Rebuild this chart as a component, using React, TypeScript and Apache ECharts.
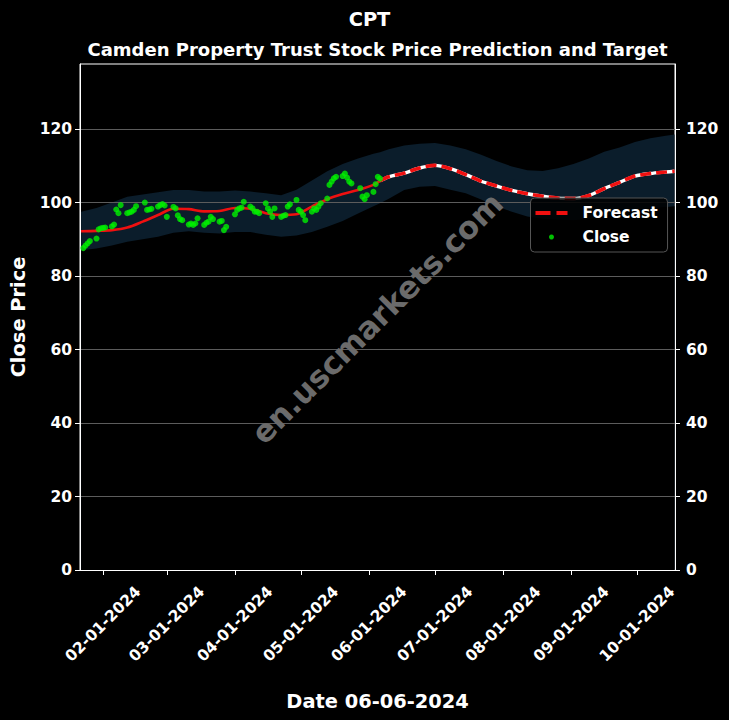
import React, { useEffect, useRef } from "react";
import * as echarts from "echarts";

const TITLE = "CPT";
const SUBTITLE = "Camden Property Trust Stock Price Prediction and Target";
const X_NAME = "Date 06-06-2024";
const Y_NAME = "Close Price";

const closeDates = [
  "2024-01-23", "2024-01-24", "2024-01-25", "2024-01-26", "2024-01-29", "2024-01-30", "2024-01-31",
  "2024-02-01", "2024-02-02", "2024-02-05", "2024-02-06", "2024-02-07", "2024-02-08", "2024-02-09",
  "2024-02-12", "2024-02-13", "2024-02-14", "2024-02-15", "2024-02-16", "2024-02-20", "2024-02-21",
  "2024-02-22", "2024-02-23", "2024-02-26", "2024-02-27", "2024-02-28", "2024-02-29",
  "2024-03-01", "2024-03-04", "2024-03-05", "2024-03-06", "2024-03-07", "2024-03-08", "2024-03-11",
  "2024-03-12", "2024-03-13", "2024-03-14", "2024-03-15", "2024-03-18", "2024-03-19", "2024-03-20",
  "2024-03-21", "2024-03-22", "2024-03-25", "2024-03-26", "2024-03-27", "2024-03-28",
  "2024-04-01", "2024-04-02", "2024-04-03", "2024-04-04", "2024-04-05", "2024-04-08", "2024-04-09",
  "2024-04-10", "2024-04-11", "2024-04-12", "2024-04-15", "2024-04-16", "2024-04-17", "2024-04-18",
  "2024-04-19", "2024-04-22", "2024-04-23", "2024-04-24", "2024-04-25", "2024-04-26", "2024-04-29",
  "2024-04-30",
  "2024-05-01", "2024-05-02", "2024-05-03", "2024-05-06", "2024-05-07", "2024-05-08", "2024-05-09",
  "2024-05-10", "2024-05-13", "2024-05-14", "2024-05-15", "2024-05-16", "2024-05-17", "2024-05-20",
  "2024-05-21", "2024-05-22", "2024-05-23", "2024-05-24", "2024-05-28", "2024-05-29", "2024-05-30",
  "2024-05-31",
  "2024-06-03", "2024-06-04", "2024-06-05", "2024-06-06",
];
const closeValues = [
  87.6, 88.3, 88.9, 89.5, 90.2, 92.7, 93.0,
  93.1, 93.2, 93.5, 94.0, 98.1, 97.1, 99.3,
  97.1, 97.3, 97.5, 98.0, 99.0, 100.0, 98.0,
  98.1, 98.3, 98.9, 99.3, 99.6, 99.2,
  96.1, 98.8, 98.4, 96.5, 95.5, 95.2, 94.0,
  94.3, 93.9, 94.3, 95.7, 93.9, 94.5, 94.8,
  96.1, 95.5, 94.8, 95.0, 92.5, 93.4,
  96.8, 98.0, 98.4, 98.6, 100.2, 98.9, 98.4,
  97.5, 97.5, 97.1, 99.8, 98.4, 97.5, 96.1,
  98.4, 96.1, 96.4, 96.6, 98.9, 99.5, 100.7,
  98.0,
  97.5, 96.6, 95.2, 97.5, 98.4, 98.0, 98.9,
  99.8, 101.1, 104.8, 105.7, 106.6, 107.0, 107.2,
  107.9, 106.8, 105.7, 105.2, 103.9, 101.6, 100.9,
  102.0,
  102.9, 105.0, 107.0, 106.5,
];

const forecastDates = [
  "2024-01-22", "2024-01-29", "2024-02-05", "2024-02-12", "2024-02-19", "2024-02-26",
  "2024-03-04", "2024-03-11", "2024-03-18", "2024-03-25", "2024-04-01", "2024-04-08",
  "2024-04-15", "2024-04-22", "2024-04-29", "2024-05-06", "2024-05-13", "2024-05-20",
  "2024-05-27", "2024-06-03", "2024-06-06", "2024-06-10", "2024-06-17", "2024-06-24",
  "2024-07-01", "2024-07-08", "2024-07-15", "2024-07-22", "2024-07-29", "2024-08-05",
  "2024-08-12", "2024-08-19", "2024-08-26", "2024-09-02", "2024-09-09", "2024-09-16",
  "2024-09-23", "2024-09-30", "2024-10-07", "2024-10-14", "2024-10-18",
];
const forecastValues = [
  92.2, 92.3, 92.5, 93.2, 94.8, 96.6,
  98.3, 98.2, 97.6, 97.7, 98.5, 98.3,
  97.1, 96.6, 96.8, 98.9, 100.9, 102.3,
  103.4, 104.8, 105.9, 107.0, 108.0, 109.4,
  110.1, 109.2, 107.6, 105.8, 104.5, 103.3,
  102.4, 101.7, 101.2, 101.1, 101.9, 103.8,
  105.5, 107.2, 107.9, 108.3, 108.5,
];
const bandLower = [
  87.0, 87.5, 88.3, 89.3, 90.0, 90.7,
  91.8, 92.2, 91.8, 91.6, 92.0, 92.0,
  91.2, 90.7, 91.0, 92.0, 93.4, 95.0,
  97.0, 99.0, 99.8, 101.0, 103.4, 104.3,
  104.5, 103.5, 102.5, 100.8, 98.9, 97.5,
  96.2, 95.6, 95.3, 95.2, 95.5, 96.3,
  97.3, 98.0, 98.5, 98.8, 99.0,
];
const bandUpper = [
  97.5, 98.5, 100.0, 101.6, 102.2, 102.8,
  103.4, 103.4, 103.0, 103.0, 103.3, 103.0,
  102.5, 102.0, 103.5, 106.0, 108.5, 110.5,
  112.0, 113.3, 113.7, 114.5, 115.5, 116.0,
  116.2, 115.5, 114.5, 113.0, 111.3, 109.8,
  108.8, 108.6, 109.3, 110.5, 112.0, 113.8,
  115.0, 116.5, 117.5, 118.2, 118.5,
];

const lastCloseDate = "2024-06-06";
const monthTicks = [
  "2024-02-01", "2024-03-01", "2024-04-01", "2024-05-01", "2024-06-01",
  "2024-07-01", "2024-08-01", "2024-09-01", "2024-10-01",
];
const yTicks = [0, 20, 40, 60, 80, 100, 120];
const yMax = 137.7;
const xStart = "2024-01-21T12:00:00";
const xEnd = "2024-10-18T05:00:00";

const FONT = "DejaVu Sans";
const BAND = "#0b1d2b";
const RED = "#f01010";
const GREEN = "#00f000";

function ts(s: string): number {
  const [y, m, d] = s.split("-").map(Number);
  return new Date(y, m - 1, d).getTime();
}
function fmt(v: number): string {
  const d = new Date(v);
  const p = (n: number) => String(n).padStart(2, "0");
  return `${p(d.getMonth() + 1)}-${p(d.getDate())}-${d.getFullYear()}`;
}

export default function App() {
  const ref = useRef<HTMLDivElement>(null);
  useEffect(() => {
    if (!ref.current) return;
    const chart = echarts.init(ref.current, null, { renderer: "svg" });
    const cut = ts(lastCloseDate);
    const fc = forecastDates.map((d, i) => [ts(d), forecastValues[i]]);
    const hist = fc.filter((p) => (p[0] as number) <= cut);
    const fut = fc.filter((p) => (p[0] as number) >= cut);
    const upper = forecastDates.map((d, i) => [ts(d), bandUpper[i]]);
    const lower = forecastDates.map((d, i) => [ts(d), bandLower[i]]);
    const close = closeDates.map((d, i) => [ts(d), closeValues[i]]);
    const tickVals = monthTicks.map(ts);

    const yAxisBase = {
      type: "value",
      min: 0,
      max: yMax,
      interval: 20,
      z: 2,
      axisLine: { show: true, lineStyle: { color: "#ffffff", width: 1 } },
      axisTick: { show: true, customValues: yTicks, length: 5, lineStyle: { color: "#ffffff" } },
    };
    const yLabel = {
      customValues: yTicks,
      color: "#ffffff",
      fontFamily: FONT,
      fontWeight: "bold",
      fontSize: 15.5,
    };

    chart.setOption({
      animation: false,
      backgroundColor: "#000000",
      textStyle: { fontFamily: FONT },
      title: [
        {
          text: TITLE,
          left: 364.5,
          textAlign: "center",
          top: 5,
          textStyle: { color: "#ffffff", fontFamily: FONT, fontWeight: "bold", fontSize: 19.4 },
        },
        {
          text: SUBTITLE,
          left: 372.5,
          textAlign: "center",
          top: 35,
          textStyle: { color: "#ffffff", fontFamily: FONT, fontWeight: "bold", fontSize: 18 },
        },
      ],
      grid: {
        left: 80,
        right: 54,
        top: 64,
        bottom: 150,
        show: true,
        borderColor: "#ffffff",
        borderWidth: 1,
      },
      legend: {
        left: 530.5,
        top: 198,
        orient: "vertical",
        data: [
          {
            name: "Forecast",
            icon: "path://M0 0H15V4H0Z M21 0H32V4H21Z",
            itemStyle: { color: RED },
          },
          { name: "Close", icon: "circle", itemStyle: { color: GREEN } },
        ],
        itemWidth: 32,
        itemHeight: 5,
        itemGap: 8,
        padding: [7, 10, 7, 5],
        backgroundColor: "rgba(0,0,0,0.85)",
        borderColor: "#555555",
        borderWidth: 1,
        borderRadius: 4,
        selectedMode: false,
        z: 20,
        textStyle: {
          color: "#ffffff",
          fontFamily: FONT,
          fontWeight: "bold",
          fontSize: 15.5,
          padding: [0, 0, 0, 10],
        },
      },
      xAxis: {
        type: "value",
        min: new Date(xStart).getTime(),
        max: new Date(xEnd).getTime(),
        name: X_NAME,
        nameLocation: "middle",
        nameGap: 122,
        nameTextStyle: { color: "#ffffff", fontFamily: FONT, fontWeight: "bold", fontSize: 19.4 },
        splitLine: { show: false },
        z: 2,
        axisLine: { show: true, lineStyle: { color: "#ffffff", width: 1 } },
        axisTick: { show: true, customValues: tickVals, length: 5, lineStyle: { color: "#ffffff" } },
        axisLabel: {
          customValues: tickVals,
          rotate: 45,
          align: "center",
          verticalAlign: "middle",
          color: "#ffffff",
          fontFamily: FONT,
          fontWeight: "bold",
          fontSize: 15.5,
          margin: 54,
          formatter: (v: number) => fmt(v),
        },
      },
      yAxis: [
        {
          ...yAxisBase,
          position: "left",
          name: Y_NAME,
          nameLocation: "middle",
          nameGap: 52,
          nameTextStyle: { color: "#ffffff", fontFamily: FONT, fontWeight: "bold", fontSize: 19.4 },
          axisLabel: { ...yLabel, margin: 8 },
          splitLine: { show: true, lineStyle: { color: "#5c5c5c", width: 1 } },
        },
        {
          ...yAxisBase,
          position: "right",
          axisLabel: { ...yLabel, margin: 11 },
          splitLine: { show: false },
        },
      ],
      graphic: [
        {
          type: "text",
          x: 377,
          y: 318,
          rotation: Math.PI / 4,
          z: 10,
          silent: true,
          style: {
            text: "en.uscmarkets.com",
            fill: "#6b6b6b",
            font: `bold 31px "${FONT}"`,
            align: "center",
            verticalAlign: "middle",
          },
        },
      ],
      series: [
        {
          name: "bandUpper",
          type: "line",
          data: upper,
          symbol: "none",
          silent: true,
          z: 1,
          lineStyle: { opacity: 0 },
          areaStyle: { color: BAND, opacity: 1 },
        },
        {
          name: "bandLower",
          type: "line",
          data: lower,
          symbol: "none",
          silent: true,
          z: 1,
          lineStyle: { opacity: 0 },
          areaStyle: { color: "#000000", opacity: 1 },
        },
        {
          name: "Forecast",
          type: "line",
          data: hist,
          symbol: "none",
          smooth: 0.3,
          z: 3,
          lineStyle: { color: RED, width: 2.6 },
          itemStyle: { color: RED },
        },
        {
          name: "ForecastBase",
          type: "line",
          data: fut,
          symbol: "none",
          smooth: 0.3,
          z: 3,
          lineStyle: { color: "#ffffff", width: 3.4 },
        },
        {
          name: "Forecast",
          type: "line",
          data: fut,
          symbol: "none",
          smooth: 0.3,
          z: 4,
          lineStyle: { color: RED, width: 3.6, type: [11, 5] },
          itemStyle: { color: RED },
        },
        {
          name: "Close",
          type: "scatter",
          data: close,
          symbolSize: 6,
          z: 5,
          itemStyle: { color: GREEN },
        },
      ],
    });
    return () => chart.dispose();
  }, []);
  return (
    <div
      ref={ref}
      style={{ position: "fixed", left: 0, top: 0, width: 729, height: 720, background: "#000" }}
    />
  );
}
